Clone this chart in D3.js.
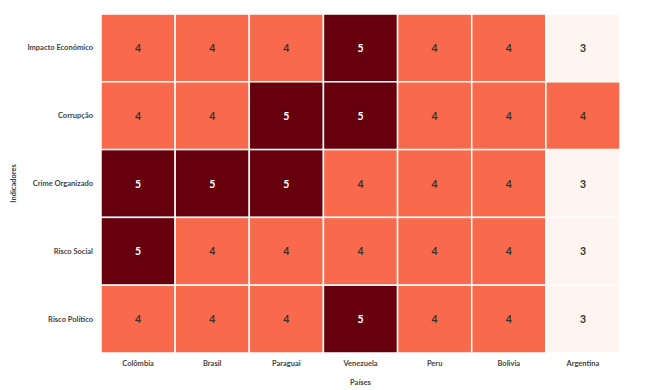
<!DOCTYPE html>
<html><head><meta charset="utf-8">
<script src="https://cdn.jsdelivr.net/npm/d3@7"></script>
<style>body{margin:0;background:#fff;}text{font-family:Lato,"Noto Sans",sans-serif;}</style>
</head><body><svg id="c" width="650" height="390"></svg>
<script>
const countries = ["Colômbia","Brasil","Paraguai","Venezuela","Peru","Bolivia","Argentina"];
const indicators = ["Impacto Económico","Corrupção","Crime Organizado","Risco Social","Risco Político"];
const values = [
  [4,4,4,5,4,4,3],
  [4,4,5,5,4,4,4],
  [5,5,5,4,4,4,3],
  [5,4,4,4,4,4,3],
  [4,4,4,5,4,4,3]
];
const xTitle = "Países", yTitle = "Indicadores";

const svg = d3.select("#c");
const L=101, R=620, T=14, B=353;
const x = d3.scaleBand().domain(countries).range([L,R]);
const y = d3.scaleBand().domain(indicators).range([T,B]);
const color = d3.scaleSequential(d3.interpolateReds).domain([3,5]);

const cells=[];
values.forEach((row,i)=>row.forEach((v,j)=>cells.push({r:indicators[i],c:countries[j],v})));
svg.selectAll("rect.cell").data(cells).join("rect")
  .attr("x",d=>x(d.c)).attr("y",d=>y(d.r))
  .attr("width",x.bandwidth()).attr("height",y.bandwidth())
  .attr("fill",d=>color(d.v)).attr("stroke","#fff").attr("stroke-width",1.5);
svg.selectAll("text.val").data(cells).join("text")
  .attr("x",d=>x(d.c)+x.bandwidth()/2).attr("y",d=>y(d.r)+y.bandwidth()/2)
  .attr("text-anchor","middle").attr("dominant-baseline","central")
  .attr("font-size",10.5).attr("font-weight",700)
  .attr("fill",d=>d.v>=5?"#fff":"#333").text(d=>d.v);

const lab = {size:7.5, weight:700, fill:"#444"};
svg.selectAll("text.xl").data(countries).join("text")
  .attr("x",d=>x(d)+x.bandwidth()/2).attr("y",366).attr("text-anchor","middle")
  .attr("font-size",lab.size).attr("font-weight",lab.weight).attr("fill",lab.fill).text(d=>d);
svg.selectAll("text.yl").data(indicators).join("text")
  .attr("x",93).attr("y",d=>y(d)+y.bandwidth()/2).attr("text-anchor","end")
  .attr("dominant-baseline","central")
  .attr("font-size",lab.size).attr("font-weight",lab.weight).attr("fill",lab.fill).text(d=>d);
svg.append("text").attr("x",(L+R)/2).attr("y",385).attr("text-anchor","middle")
  .attr("font-size",lab.size).attr("font-weight",lab.weight).attr("fill",lab.fill).text(xTitle);
svg.append("text").attr("transform",`translate(16,${(T+B)/2}) rotate(-90)`).attr("text-anchor","middle")
  .attr("font-size",lab.size).attr("font-weight",lab.weight).attr("fill",lab.fill).text(yTitle);
</script></body></html>
